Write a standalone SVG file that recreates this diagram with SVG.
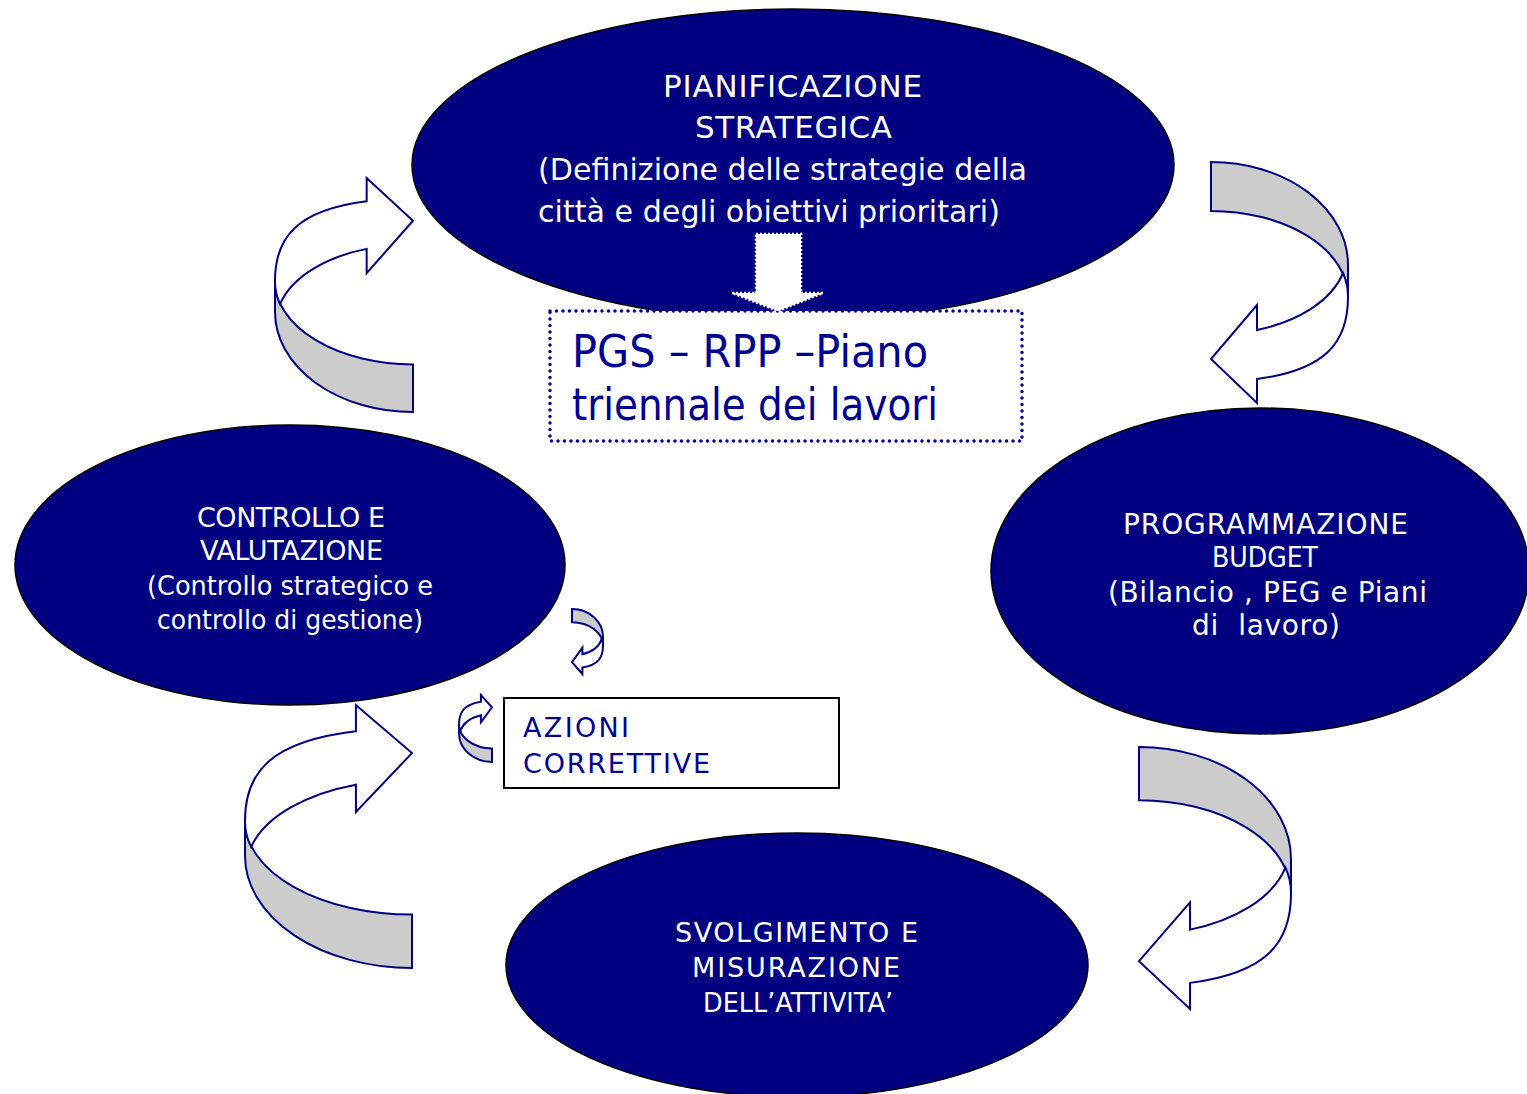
<svg xmlns="http://www.w3.org/2000/svg" xmlns:xlink="http://www.w3.org/1999/xlink" width="1527" height="1094" viewBox="0 0 1527 1094">
<style>
  .ell { fill: #000080; stroke: #000000; stroke-width: 1.5; }
  .wt { fill: #ffffff; font-family: "DejaVu Sans", "Noto Sans", sans-serif; }
  .nt { fill: #000090; font-family: "DejaVu Sans", "Noto Sans", sans-serif; }
  .sq { white-space: pre; }
  .band { fill: #cccccc; stroke: #000080; stroke-width: 2; vector-effect: non-scaling-stroke; stroke-linejoin: miter; }
  .head { fill: #ffffff; stroke: #000080; stroke-width: 2; vector-effect: non-scaling-stroke; stroke-linejoin: miter; }
</style>
<defs>
  <g id="curl">
    <path class="band" d="M0,0 A137,103 0 0 1 137,103 L137,135 A137,86 0 0 0 0,49 Z"/>
    <path class="head" d="M132,111 A137,86 0 0 1 137,135 C137,180 115,208 46,217 L46,241 L0,197 L46,143 L46,168 C85,160 120,140 132,111 Z"/>
  </g>
</defs>
<rect width="1527" height="1094" fill="#ffffff"/>

<g id="node-pianificazione">
  <ellipse class="ell" cx="793" cy="165" rx="381" ry="156"/>
  <text class="wt" font-size="31" x="663" y="97" textLength="259">PIANIFICAZIONE</text>
  <text class="wt" font-size="31" x="695" y="138" textLength="197">STRATEGICA</text>
  <text class="wt" font-size="31" x="538" y="180" textLength="489" lengthAdjust="spacingAndGlyphs">(Definizione delle strategie della</text>
  <text class="wt" font-size="31" x="538" y="222" textLength="462" lengthAdjust="spacingAndGlyphs">città e degli obiettivi prioritari)</text>
</g>

<g id="node-programmazione">
  <ellipse class="ell" cx="1260" cy="571" rx="269" ry="163"/>
  <text class="wt" font-size="28" x="1123" y="534" textLength="285">PROGRAMMAZIONE</text>
  <text class="wt" font-size="28" x="1212" y="567" textLength="106" lengthAdjust="spacingAndGlyphs">BUDGET</text>
  <text class="wt" font-size="28" x="1108" y="602" textLength="319">(Bilancio , PEG e Piani</text>
  <text class="wt sq" font-size="28" x="1192" y="635" textLength="148">di  lavoro)</text>
</g>

<g id="node-controllo">
  <ellipse class="ell" cx="290" cy="565" rx="275" ry="140"/>
  <text class="wt" font-size="27" x="197" y="527" textLength="188">CONTROLLO E</text>
  <text class="wt" font-size="27" x="200" y="560" textLength="183">VALUTAZIONE</text>
  <text class="wt" font-size="27" x="147" y="595" textLength="286" lengthAdjust="spacingAndGlyphs">(Controllo strategico e</text>
  <text class="wt" font-size="27" x="157" y="629" textLength="266" lengthAdjust="spacingAndGlyphs">controllo di gestione)</text>
</g>

<g id="node-svolgimento">
  <ellipse class="ell" cx="797" cy="965" rx="291" ry="132"/>
  <text class="wt" font-size="27" x="675" y="942" textLength="243">SVOLGIMENTO E</text>
  <text class="wt" font-size="27" x="692" y="977" textLength="208">MISURAZIONE</text>
  <text class="wt" font-size="27" x="703" y="1012" textLength="190" lengthAdjust="spacingAndGlyphs">DELL’ATTIVITA’</text>
</g>

<g id="node-pgs">
  <rect x="550" y="311" width="472" height="130" fill="#ffffff" stroke="#000099" stroke-width="3.5" stroke-dasharray="0 6.5" stroke-linecap="round"/>
  <text class="nt" font-size="44" x="572" y="367" textLength="356" lengthAdjust="spacingAndGlyphs">PGS – RPP –Piano</text>
  <text class="nt" font-size="44" x="572" y="420" textLength="366" lengthAdjust="spacingAndGlyphs">triennale dei lavori</text>
</g>

<g id="node-azioni">
  <rect x="504" y="698" width="335" height="90" fill="#ffffff" stroke="#000000" stroke-width="2"/>
  <text class="nt" font-size="27" x="523" y="737" textLength="106">AZIONI</text>
  <text class="nt" font-size="27" x="523" y="773" textLength="187">CORRETTIVE</text>
</g>

<g id="connectors">
  <path d="M756,234 H801 V293 H823 L778,311 L732,293 H756 Z" fill="#ffffff" stroke="#ffffff" stroke-width="2.5" stroke-dasharray="2 2"/>
  <use xlink:href="#curl" href="#curl" transform="translate(1211,162)"/>
  <use xlink:href="#curl" href="#curl" transform="translate(1139,747) scale(1.1095,1.087)"/>
  <use xlink:href="#curl" href="#curl" transform="translate(572,609) scale(0.2263,0.2697)"/>
  <use xlink:href="#curl" href="#curl" transform="translate(413,412) scale(-1.0073,-0.971)"/>
  <use xlink:href="#curl" href="#curl" transform="translate(412,968) scale(-1.219,-1.091)"/>
  <use xlink:href="#curl" href="#curl" transform="translate(492,762) scale(-0.2409,-0.278)"/>
</g>
</svg>
